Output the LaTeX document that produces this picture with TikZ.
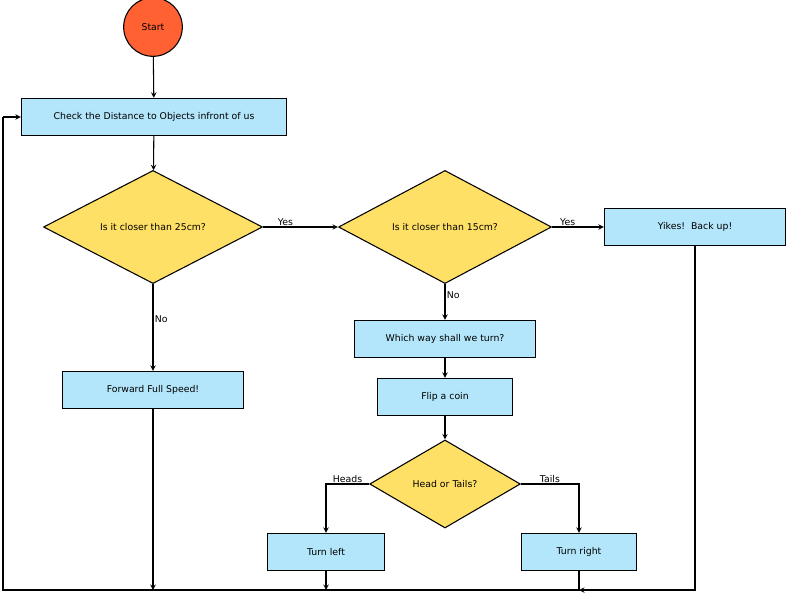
\documentclass[tikz,border=0pt]{standalone}
\usepackage{fontspec}
\setmainfont{DejaVu Sans}
\usetikzlibrary{shapes.geometric}
\begin{document}
\begin{tikzpicture}[x=0.75pt,y=-0.75pt,thick,font=\fontsize{7}{8}\selectfont,
  proc/.style={draw,rectangle,fill=cyan!30!white,inner sep=0pt},
  dec/.style={draw,diamond,fill=orange!40!yellow!60!white,inner sep=0pt,minimum width=#1*0.75pt,minimum height=105*0.75pt},
  lbl/.style={inner sep=1pt}]
			\useasboundingbox (0,0) rectangle (788,599);
			\node[draw,circle,fill=red!55!orange!80!white,minimum size=44pt,inner sep=0pt] (start)at(153,27) {Start};
			\node[proc,minimum width=199pt,minimum height=28pt] (check)at(154,117) {Check the Distance to Objects infront of us};
			\node[dec=219] (d25)at(153,227) {Is it closer than 25cm?};
			\node[dec=213] (d15)at(445,227) {Is it closer than 15cm?};
			\node[proc,minimum width=136pt,minimum height=28pt] (yikes)at(695,227) {Yikes!\ \ Back up!};
			\node[proc,minimum width=136pt,minimum height=28pt] (forward)at(153,390) {Forward Full Speed!};
			\node[proc,minimum width=136pt,minimum height=28pt] (which)at(445,339) {Which way shall we turn?};
			\node[proc,minimum width=101pt,minimum height=28pt] (coin)at(445,397) {Flip a coin};
			\node[draw,diamond,fill=orange!40!yellow!60!white,inner sep=0pt,minimum width=113pt,minimum height=66pt] (heads)at(445,484) {Head or Tails?};
			\node[proc,minimum width=88pt,minimum height=28pt] (left)at(326,552) {Turn left};
			\node[proc,minimum width=86pt,minimum height=28pt] (right)at(579,552) {Turn right};
			\coordinate (c1)at(153,590);
			\coordinate (c2)at(326,590);
			\coordinate (c3)at(579,590);
			\coordinate (c4)at(695,590);
			\coordinate (c5)at(3,590);
			\coordinate (c6)at(3,117);
			\coordinate (c7)at(326,484);
			\coordinate (c8)at(579,484);
			\draw[->,>=stealth] (start) -- (check);
			\draw[->,>=stealth] (check) -- (d25);
			\draw[->,>=stealth] (d25) -- node[lbl,above,pos=0.3]{Yes} (d15);
			\draw[->,>=stealth] (d15) -- node[lbl,above,pos=0.3]{Yes} (yikes);
			\draw[->,>=stealth] (d25) -- node[lbl,right,pos=0.4]{No} (forward);
			\draw[->,>=stealth] (d15) -- node[lbl,right,pos=0.3]{No} (which);
			\draw[->,>=stealth] (which) -- (coin);
			\draw[->,>=stealth] (coin) -- (heads);
			\draw[->,>=stealth] (heads.west) -- node[lbl,above,pos=0.5]{Heads} (c7) -- (left);
			\draw[->,>=stealth] (heads.east) -- node[lbl,above,pos=0.5]{Tails} (c8) -- (right);
			\draw[->,>=stealth] (forward) -- (c1);
			\draw[->,>=stealth] (left) -- (c2);
			\draw (right) -- (c3) -- (c5) -- (c6);
			\draw[->,>=stealth] (c6) -- (check);
			\draw[->,>=stealth] (yikes) -- (c4) -- (c3);
		\end{tikzpicture}
\end{document}
